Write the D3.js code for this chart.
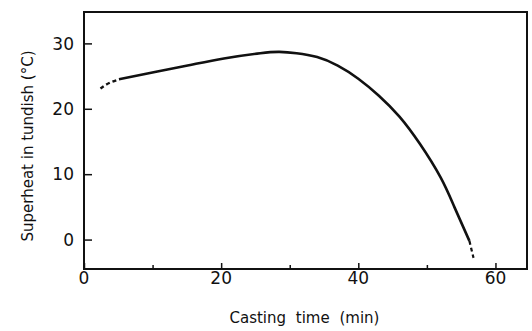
<!DOCTYPE html>
<html>
<head>
<meta charset="utf-8">
<script src="https://cdn.jsdelivr.net/npm/d3@7"></script>
<style>
  body { margin: 0; background: #fff; }
  svg { display: block; }
  text { font-family: "DejaVu Sans", sans-serif; fill: #111; }
</style>
</head>
<body>
<div id="chart"></div>
<script>
// Values
const dashStart = [[2.4, 23.1], [3.6, 23.9], [5.1, 24.5]];
const solidX = [5.1, 10.7, 15.5, 20.4, 25.7, 28.5, 31, 34, 37, 40, 43, 46, 49, 52, 54, 56.2];
const solidY = [24.5, 25.7, 26.7, 27.7, 28.5, 28.7, 28.5, 27.9, 26.6, 24.6, 22.0, 18.8, 14.6, 9.5, 5.0, -0.2];
const dashEnd = [[56.2, -0.2], [56.5, -1.5], [56.8, -2.8]];
const xTicks = [0, 20, 40, 60];
const xMinor = [10, 30, 50];
const yTicks = [0, 10, 20, 30];

const width = 532, height = 331;
const margin = { left: 84, right: 5, top: 12, bottom: 62 };

const svg = d3.select("#chart").append("svg")
  .attr("width", width)
  .attr("height", height);

const x = d3.scaleLinear().domain([0, 64.6]).range([margin.left, width - margin.right]);
const y = d3.scaleLinear().domain([-4.5, 34.8]).range([height - margin.bottom, margin.top]);

const line = d3.line()
  .x(d => x(d[0]))
  .y(d => y(d[1]))
  .curve(d3.curveNatural);

// Frame
svg.append("rect")
  .attr("x", x(0)).attr("y", y(34.8))
  .attr("width", x(64.6) - x(0)).attr("height", y(-4.5) - y(34.8))
  .attr("fill", "none").attr("stroke", "#111").attr("stroke-width", 2);

// Y axis, ticks pointing inward
const yAxis = svg.append("g")
  .attr("transform", `translate(${x(0)},0)`)
  .call(d3.axisRight(y).tickValues(yTicks).tickSize(8).tickFormat(""));
yAxis.select(".domain").remove();
yAxis.selectAll("line").attr("stroke", "#111").attr("stroke-width", 1.5);

svg.append("g").selectAll("text")
  .data(yTicks).join("text")
  .attr("x", x(0) - 10)
  .attr("y", d => y(d))
  .attr("dy", "0.36em")
  .attr("text-anchor", "end")
  .attr("font-size", 17)
  .text(d => d);

// X axis, ticks pointing inward
const xAxis = svg.append("g")
  .attr("transform", `translate(0,${y(-4.5)})`)
  .call(d3.axisTop(x).tickValues(xTicks).tickSize(6).tickFormat(""));
xAxis.select(".domain").remove();
xAxis.selectAll("line").attr("stroke", "#111").attr("stroke-width", 1.5);

const xAxisMinor = svg.append("g")
  .attr("transform", `translate(0,${y(-4.5)})`)
  .call(d3.axisTop(x).tickValues(xMinor).tickSize(4).tickFormat(""));
xAxisMinor.select(".domain").remove();
xAxisMinor.selectAll("line").attr("stroke", "#111").attr("stroke-width", 1.5);

svg.append("g").selectAll("text")
  .data(xTicks).join("text")
  .attr("x", d => x(d))
  .attr("y", y(-4.5) + 15)
  .attr("text-anchor", "middle")
  .attr("font-size", 17)
  .text(d => d);

// Axis titles
svg.append("text")
  .attr("x", (x(0) + x(64.6)) / 2 - 1)
  .attr("y", 323)
  .attr("text-anchor", "middle")
  .attr("font-size", 15)
  .attr("word-spacing", 5)
  .text("Casting time (min)");

svg.append("text")
  .attr("transform", `translate(33,${146}) rotate(-90)`)
  .attr("text-anchor", "middle")
  .attr("font-size", 15)
  .text("Superheat in tundish (°C)");

// Curve
const solid = solidX.map((v, i) => [v, solidY[i]]);

svg.append("path")
  .datum(solid)
  .attr("d", line)
  .attr("fill", "none")
  .attr("stroke", "#111")
  .attr("stroke-width", 2.6);

svg.append("path")
  .datum(dashStart)
  .attr("d", line)
  .attr("fill", "none")
  .attr("stroke", "#111")
  .attr("stroke-width", 2.4)
  .attr("stroke-dasharray", "4,3");

svg.append("path")
  .datum(dashEnd)
  .attr("d", line)
  .attr("fill", "none")
  .attr("stroke", "#111")
  .attr("stroke-width", 2.2)
  .attr("stroke-dasharray", "4,3");
</script>
</body>
</html>
